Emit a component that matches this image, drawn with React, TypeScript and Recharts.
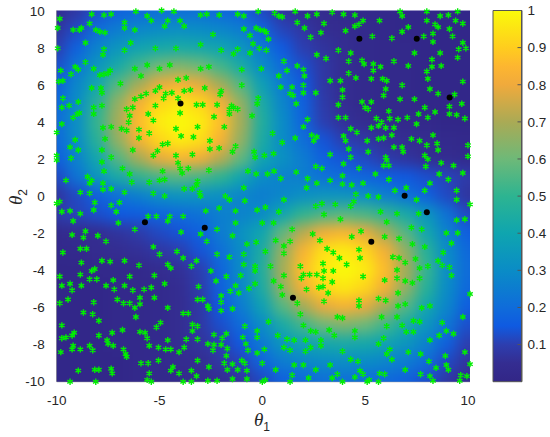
import { ScatterChart, Scatter, XAxis, YAxis, Label, ComposedChart, Bar } from 'recharts'

const xTicks = [-10, -5, 0, 5, 10]
const yTicks = [-10, -8, -6, -4, -2, 0, 2, 4, 6, 8, 10]
const barTicks = [0.1, 0.2, 0.3, 0.4, 0.5, 0.6, 0.7, 0.8, 0.9, 1]

// colour scale
const colorStops: [number, number[]][] = [
  [0, [50, 38, 135]],
  [0.05, [52, 45, 145]],
  [0.1, [45, 62, 175]],
  [0.15, [15, 90, 225]],
  [0.2, [15, 108, 218]],
  [0.3, [10, 140, 198]],
  [0.4, [15, 165, 175]],
  [0.5, [45, 180, 145]],
  [0.6, [110, 185, 120]],
  [0.7, [170, 170, 85]],
  [0.8, [240, 170, 60]],
  [0.85, [253, 182, 48]],
  [0.9, [255, 205, 30]],
  [1, [250, 250, 10]],
]

const gridX = [-10, -9, -8, -7, -6, -5, -4, -3, -2, -1, 0, 1, 2, 3, 4, 5, 6, 7, 8, 9, 10]
const gridY = [10, 9, 8, 7, 6, 5, 4, 3, 2, 1, 0, -1, -2, -3, -4, -5, -6, -7, -8, -9, -10]
const heatRows = [
  [.05, .08, .13, .17, .19, .21, .21, .21, .19, .17, .12, .07, .05, .04, .03, .02, .02, .01, .01, .01, .01],
  [.07, .12, .20, .25, .28, .30, .31, .30, .28, .25, .18, .11, .08, .05, .04, .03, .02, .01, .01, .01, .01],
  [.10, .17, .27, .34, .39, .42, .43, .42, .39, .34, .24, .15, .10, .07, .05, .03, .02, .02, .01, .01, .01],
  [.13, .23, .34, .43, .53, .60, .63, .60, .53, .43, .30, .20, .13, .08, .05, .03, .02, .02, .01, .01, .01],
  [.16, .28, .41, .56, .69, .79, .83, .79, .69, .56, .38, .25, .15, .08, .05, .03, .02, .02, .01, .01, .01],
  [.19, .30, .48, .66, .82, .92, .96, .92, .82, .66, .44, .28, .17, .09, .05, .03, .02, .02, .01, .01, .01],
  [.20, .31, .51, .69, .86, .97, 1, .97, .87, .69, .46, .30, .18, .10, .06, .04, .02, .02, .02, .01, .01],
  [.19, .30, .48, .66, .82, .92, .97, .94, .83, .66, .44, .30, .21, .14, .10, .08, .06, .05, .04, .03, .02],
  [.16, .27, .41, .56, .69, .79, .84, .81, .72, .58, .40, .32, .25, .17, .14, .12, .09, .07, .05, .04, .03],
  [.12, .22, .34, .43, .50, .54, .56, .54, .50, .40, .30, .27, .26, .22, .20, .18, .16, .15, .13, .11, .09],
  [.07, .12, .17, .22, .26, .31, .33, .33, .31, .28, .25, .28, .31, .33, .33, .31, .26, .22, .17, .12, .07],
  [.09, .11, .13, .15, .16, .18, .20, .22, .26, .27, .30, .40, .50, .54, .56, .54, .50, .43, .34, .22, .12],
  [.03, .04, .05, .07, .09, .12, .14, .17, .25, .32, .40, .58, .72, .81, .84, .79, .69, .56, .41, .27, .16],
  [.02, .03, .04, .05, .06, .08, .10, .14, .21, .30, .44, .66, .83, .94, .97, .92, .82, .66, .48, .30, .19],
  [.01, .01, .02, .02, .02, .04, .06, .10, .18, .30, .46, .69, .87, .97, 1, .97, .86, .69, .51, .31, .20],
  [.01, .01, .01, .02, .02, .03, .05, .09, .17, .28, .44, .66, .82, .92, .96, .92, .82, .66, .48, .30, .19],
  [.01, .01, .01, .02, .02, .03, .05, .08, .15, .25, .38, .56, .69, .79, .83, .79, .69, .56, .41, .28, .16],
  [.01, .01, .01, .02, .02, .03, .05, .08, .13, .20, .30, .43, .53, .60, .63, .60, .53, .43, .34, .23, .13],
  [.01, .01, .01, .02, .02, .03, .05, .07, .10, .15, .24, .34, .39, .42, .43, .42, .39, .34, .27, .17, .10],
  [.01, .01, .01, .01, .02, .03, .04, .05, .08, .11, .18, .25, .28, .30, .31, .30, .28, .25, .20, .12, .07],
  [.01, .01, .01, .01, .02, .02, .03, .04, .05, .07, .12, .17, .19, .21, .21, .21, .19, .17, .13, .08, .05],
]

const blackPoints = [
  [-3.98, 5.01], [4.72, 8.52], [7.51, 8.52], [9.11, 5.34], [6.92, 0.02],
  [8.0, -0.87], [-5.71, -1.41], [-2.8, -1.72], [5.3, -2.47], [1.49, -5.51],
]

const greenPoints = [
  // upper left
  [-9.85,9.6],[-9.95,9.1],[-8.3,9.85],[-8.4,9.35],[-8.8,9.1],[-9.2,9],[-8.9,9],[-8.1,9],[-7.9,8.9],[-7.65,8.85],[-7.7,9.8],[-7.35,9.85],[-6.15,10],[-6.7,9.4],[-6.7,9.1],[-6.2,9],[-5.6,9.75],[-5.4,9.5],[-4.9,10.05],[-4.3,10],[-4.75,9.2],[-4.6,9.5],[-4,9.5],[-3.8,9.2],[-3,9.8],[-2.7,9.85],[-2.1,9.8],[-1.2,9.85],[-0.9,9.75],[-0.2,10],[0.6,9.9],[0.8,9.75],
  [-0.9,9.05],[-0.3,9.1],[-0.1,9],[0.1,8.95],[0.2,8.85],[-0.6,8.7],[-2.4,8.75],[-0.45,8.25],[0.3,8.5],
  [-9.95,8],[-8.6,8.3],[-7.7,7.95],[-7.75,7.65],[-6.4,8.3],[-6.7,7.9],[-5.2,8],[-4.2,8],[-3,8.2],[-2,7.9],[-1.4,7.7],[-1.2,7.95],[-0.6,7.75],[-0.15,8],[0.2,7.9],
  [-9.1,7],[-8.6,7.25],[-8.95,6.85],[-9.8,6.8],[-9.3,6.6],[-8.2,6.9],[-7.5,6.65],[-7.9,6.55],[-7.7,6.6],[-7.4,6.8],[-6.2,6.9],[-5.6,7.1],[-5,6.9],[-4.5,7.1],[-5.9,6.5],[-3,6.9],[-2.6,7],[-1,6.85],[-0.05,6.9],[-3.7,6.4],[-4.1,6.3],
  [-9.9,6.2],[-9.7,6.25],[-8.3,5.85],[-7.85,5.85],[-7.8,5.6],[-6.9,6.1],[-5,5.9],[-5.2,5.7],[-1,6],[-3.8,5.7],[-3.5,5.75],[-4.4,5.6],[-4.7,5.55],[-2.8,5.85],[-2,5.7],[-2.05,5.5],[-0.2,5.3],
  [-6.2,5.25],[-5.9,5.4],[-5.65,5.55],[-4.8,5.3],[-5.2,4.9],[-4.1,5.3],[-3.2,4.95],[-2.9,4.95],[-2.2,4.95],[-1.5,4.9],[-1.4,4.8],[-1.2,4.7],[-9.7,5.3],[-9.75,4.8],[-9.4,4.9],[-8.95,5.1],[-8.2,4.8],[-7.8,4.9],[-9,4.45],[-8.9,4.5],
  [-6.6,4.7],[-6.3,4.8],[-6.45,4.35],[-6.5,4],[-6.85,3.65],[-6.6,3.55],[-5.55,4.45],[-5.3,4.1],[-7.35,3.75],[-7.75,3.7],[-6,3.6],[-6,3.15],[-5.5,3.4],[-4.2,3.65],[-4,4.5],[-3.15,3.75],[-2.35,4.3],[-1.6,4.7],[-1.6,4.45],[-1.85,3.75],[-0.5,4.35],[-0.25,5],[-9.75,3.9],[-10,3.45],[-9.2,4.25],[-8.2,4.45],[-7.65,3.1],[-3.95,3.25],[-3.35,3.2],[-9.1,3.05],[0.5,3.4],
  [-4.85,2.8],[-4.6,2.85],[-2.55,3],[-2.55,2.55],[-2.1,2.6],[-1.3,2.7],[-1.45,2.4],[-5.1,2.45],[-5.3,2.2],[-6.3,2.5],[-7.35,2.1],[-7.8,2.5],[-9.35,2.65],[-8.95,2.5],[-9.3,2.05],[-10,2.2],[-10,1.95],[-4.2,2.2],[-3.4,2.25],[-0.4,2.4],[-0.35,2.1],[0.1,2.2],[0.55,2.3],
  [-7.8,1.85],[-6.8,1.5],[-4.1,1.8],[-4,1.5],[-3.6,1.5],[-3.9,1.25],[-4.85,1.35],[-7.7,1.35],[-6.45,1.2],[-2.6,1.4],[-0.7,1.35],[-0.3,1.2],[0.25,1.2],[-9.55,0.85],[-8.5,1.05],[-8.3,0.85],[-8.4,0.7],[-7.75,0.7],[-6.35,0.75],[-5.5,0.75],[-5,0.85],[-4.75,0.9],
  [-3.15,0.8],[-3.2,0.6],[-3.8,0.4],[-3.4,0.4],[-0.9,0.45],[-7.75,0.35],[-7.35,0.4],[-8.85,0.2],[-8.4,0.15],[-6.7,0.2],[-5.3,0.15],[-4.75,0],[-3.05,0.2],[-3,0],[-1.8,0],[-1.6,-0.2],[-0.85,-0.25],[-9.85,-0.3],[-10,-0.4],[-8.15,-0.35],[-7.35,-0.5],[-6.95,-0.35],[-2.75,-0.8],[-2.1,-0.65],[-1.3,-0.8],[-0.25,-0.75],[0.15,-0.6],[-7.1,-0.85],[-9.35,-0.8],[-9.75,-0.85],[-8.85,-0.95],[-8.2,-0.75],[-5.55,-1.1],[-5.15,-1.1],[-4.5,-1.1],[-3.85,-1.1],
  // upper right
  [0.97,9.7],[1.6,10],[2.2,9.75],[2.65,9.85],[3.4,9.95],[3.95,9.85],[4.5,9.8],[6.7,10],[6.8,9.75],[8,10],[8,9.5],[8.65,9.75],[9.05,9.8],[9.5,10],[9.4,9.5],[9.75,9.35],
  [1.7,9.4],[2.05,9.1],[3,9.35],[2.85,8.85],[2.35,8.6],[4.05,8.95],[4.5,9.2],[4.9,9.5],[5.7,9.5],[4.7,9.3],[5.35,8.65],[6.3,8.55],[6.8,8.9],[7.1,9.15],[7.85,8.65],[8.3,8.8],[8.3,8.35],[8.4,9.3],[8.55,9.15],[9.1,9.05],[9.25,8.65],
  [3.7,7.9],[4.3,7.75],[2.65,7.65],[3.1,7.45],[4.2,7.3],[4.85,7.35],[4.95,7.15],[6.4,7.3],[7.4,7.75],[8.25,7.4],[8.65,7.75],[9.75,8.3],[9.55,7.95],[9.9,8],[9.5,7.5],[1.05,7.3],[1.7,7.05],[2,6.85],[7.1,7.05],[8.7,7.05],[8.25,7],
  [5.4,7.15],[5.75,7],[5.4,6.8],[4.2,6.65],[1.2,6.8],[0.8,6.5],[2.05,6.5],[8,6.75],[8.05,6.35],[4.55,6.4],[5.3,6.35],[5.85,6.35],[6.05,6.25],[3.3,6.25],[3.8,6.25],[9.75,6.2],[6.8,6],
  [1.45,5.9],[0.9,5.9],[2,6],[6,5.8],[3.9,5.75],[8.15,5.8],[2.6,5.6],[1.35,5.55],[1.5,5.45],[2,5.6],[5.9,5.45],[3.9,5.35],[6.7,5.25],[7.4,5.25],[8.55,5.55],[9.35,5.5],
  [1.65,5],[3.7,4.95],[4.85,5.1],[5.3,5.1],[5,4.8],[5.15,4.7],[9.1,4.85],[9.7,5],[7.9,4.8],[6.15,4.6],[7.6,4.45],[9.1,4.45],[9.45,4.4],[8.4,4.55],[3.7,4.25],[4.05,4.25],[7.05,4.25],[8.05,4.25],[9.85,4.2],[2.2,4.15],[2,3.75],[5.55,4.2],[5.8,4],[6.2,4.2],[6.6,4.15],[7.5,3.9],[5.3,3.7],[6,3.7],[6.4,3.7],[4.3,3.65],[4.6,3.45],[5.65,3.8],
  [1.6,3.15],[2.4,3.3],[2.65,3.2],[2.5,3],[0.97,2.9],[3.95,3.25],[4.05,3],[6.3,3.3],[5.65,3.1],[5.9,3.15],[7.25,3.1],[7.65,3],[8.3,3.3],[8,2.75],[8.5,2.85],[10,2.75],[5.1,3],[4.2,2.55],[6.4,2.65],[6.8,2.65],[6.85,2.4],[5.15,2.4],[8.55,2.5],[10,2.15],[3.3,2.25],[4.3,2.1],[6,2.1],[7.9,2.2],[8.05,2],[6.05,1.95],[6.15,1.65],[3.95,1.75],[8.7,1.8],[9.3,1.65],[2.6,1.6],[2.9,1.5],[7.95,1.6],[4.7,1.5],[5.9,1.65],[0.57,1.35],[1.65,1.3],[3.9,1.1],[5.5,1.2],[9.75,1.25],[8.6,1.2],
  [0.9,0.95],[2.2,0.95],[2.65,0.7],[3.3,0.85],[3.9,0.65],[6.15,0.9],[9.05,0.9],[2.15,0.45],[4.35,0.6],[4.9,0.7],[8.15,0.7],[7,0.45],[7.9,0.3],[9.45,0.3],[5.65,-0.05],[4.55,0.1],[6.45,0.3],[5.15,0],[1.05,-0.2],[9.45,-0.2],[10.1,-0.45],[7.5,-0.2],[2.9,-0.4],[3.55,-0.45],[2.6,-0.55],[4.45,-0.3],[4.3,-0.55],[0.8,-0.85],[3,-1],[5.75,-0.85],[6.55,-0.95],[7.6,-0.95],
  // lower left
  [-9.2,-1.35],[-7,-1.45],[-4.6,-1.35],[-6.2,-1.8],[-9.25,-2.1],[-8.6,-1.9],[-8,-2.15],[-7.6,-2.45],[-8.7,-2.25],[-3.95,-1.95],[-3,-2.05],[-2.7,-2.45],[-2.2,-1.8],[-1.3,-1.45],[0,-1.45],[0.55,-1.45],[-1.45,-2.15],[-0.75,-2.6],[-0.3,-2.5],[-9.7,-3.05],[-8.85,-2.85],[-8.55,-2.85],[-5.3,-2.75],[-5,-3.15],[-4.15,-3],[-3.85,-3.35],[-3.2,-3.5],[-2.2,-3.15],[-1.6,-3.3],[-0.9,-3.15],[0.15,-3],
  [-8.8,-3.6],[-7.8,-3.5],[-7.4,-3.55],[-6.7,-3.5],[-6,-3.75],[-4.6,-3.7],[-4.45,-3.9],[-3.45,-3.8],[-8.15,-3.95],[-8.3,-4.05],[-2.5,-4.05],[-0.9,-3.7],[-0.35,-3.8],[-0.35,-4.05],[0.4,-3.8],
  [-9.85,-4.35],[-8.85,-4.25],[-8.05,-4.5],[-8.4,-4.5],[-6.45,-4.35],[-7.25,-4.55],[-5.25,-4.3],[-1.75,-4.35],[-1.05,-4.3],[-2.25,-4.6],[-0.35,-4.75],[-9.75,-4.85],[-9.35,-4.75],[-8.8,-4.85],[-7.6,-4.85],[-4.75,-4.75],[-7.2,-5.05],[-6.7,-4.85],[-3.1,-4.9],[-9.25,-5.1],[-6.3,-5.1],[-5.75,-5.05],[-5.4,-4.95],[-1.3,-4.85],[-0.65,-5],[-1.55,-5.15],[-1.15,-5.25],[0.55,-4.6],
  [-7.05,-5.6],[-5.95,-5.5],[-5.25,-5.5],[-9.45,-5.6],[-2,-5.4],[-3.15,-5.6],[-2.9,-5.6],[-9.85,-5.8],[-8.2,-5.75],[-6.75,-5.8],[-6.45,-5.8],[-5.95,-5.85],[-2,-5.75],[-2.65,-5.95],[-6.2,-6.05],[-4.6,-6.05],[-2,-6.2],[-2.6,-6.1],[-8.7,-6.3],[-8.25,-6.4],[-3.85,-6.35],[-3.6,-6.35],[-7.95,-6.75],[-6.15,-6.55],[-4.95,-6.85],[-1.45,-6.1],[0.3,-6.8],[-5.15,-7.1],[-9.75,-7],[-3.4,-6.95],[-3.15,-7.05],[-0.85,-7.05],[-3.4,-7.3],[-6.8,-7.25],[-7.3,-7.4],[-9.15,-7.4],[-5.95,-7.35],[-5.7,-7.4],[-0.25,-7.3],
  [-9.55,-7.65],[-9.75,-7.7],[-9.25,-7.55],[-7.95,-7.55],[-5.6,-7.7],[-4.6,-7.8],[-3.7,-7.75],[-3.15,-7.75],[-2.35,-7.5],[-1.75,-7.45],[-1.95,-7.7],[-0.95,-7.65],[-0.25,-7.65],[-7.55,-7.8],[-7.5,-8],[-7.25,-8.1],[-2.65,-8],[-2.35,-8.05],[-2,-8.05],[-0.8,-8],[-9.2,-8.1],[-8.4,-8.1],[-5.5,-8.1],[-5.05,-8.2],[-3.8,-8.2],[-1.7,-8.25],[-4.7,-8.3],[-4.45,-8.3],[-9.25,-8.3],[-6.75,-8.3],[-8.85,-8.3],[-0.7,-8.35],[0.1,-8.3],[-9.8,-8.45],[-8.25,-8.35],[-6.65,-8.55],[-4.05,-8.45],[-2.4,-8.35],[-6.6,-8.7],[-1.75,-8.65],[-0.25,-8.5],[-1,-8.9],
  [-3.15,-8.9],[-5.05,-8.9],[-5.9,-9.05],[-5.55,-9.05],[-1.85,-9.05],[-1.45,-9.1],[-0.85,-9.05],[0,-9.05],[-4.35,-9.25],[-4.45,-9.45],[-7.35,-9.35],[-8.95,-9.45],[-8.15,-9.4],[-7.95,-9.4],[-7.3,-9.6],[-2.6,-9.25],[-1.7,-9.4],[-1.2,-9.4],[-0.75,-9.45],[-4.05,-9.6],[-3.45,-9.45],[-3.2,-9.75],[-5.5,-9.6],[-5.6,-9.95],[-2.65,-10],[-2.2,-10],[-1.45,-9.9],[-9.35,-10.05],[-8.1,-10.05],[-5.4,-10.05],[-3.85,-10.05],[-3.45,-10.05],[0,-10.05],[-0.75,-9.9],[0.15,-9.95],
  // lower right
  [3.8,-1.25],[6.05,-1.4],[7.25,-1.7],[7.75,-1.8],[9.45,-1.3],[9.85,-1.25],[1.45,-1.8],[2.45,-2.05],[4.35,-2.2],[4.8,-1.9],[5.95,-2.2],[6.65,-2.3],[8.95,-2],[9.5,-2],[9.2,-2.55],[7.3,-2.6],[1.35,-2.45],[1.05,-2.7],[2.8,-2.4],[0.65,-2.4],[3.15,-2.85],[4.7,-2.9],[3.45,-3.05],[1.05,-3.1],[3.75,-3.35],[4.75,-3.35],[6.35,-3.3],[6.65,-3.35],[7.9,-2.75],[8.8,-3.05],[7.45,-3.4],
  [2.95,-3.65],[6.95,-3.6],[4.1,-3.7],[1.85,-3.8],[8.55,-3.5],[8.75,-3.75],[8.05,-3.8],[9.1,-3.85],[7.65,-3.9],[6.55,-4],[3,-4.05],[3.45,-4.05],[2,-4.25],[2.3,-4.25],[2.65,-4.25],[1.05,-4.3],[4.9,-4.35],[1.9,-4.45],[2.95,-4.45],[9.2,-4.3],[6.55,-4.45],[5.95,-4.55],[7.65,-4.45],[3.4,-4.65],[6.95,-4.6],[7.3,-4.7],[2.95,-4.9],[2.75,-4.95],[0.9,-4.9],[2.15,-5.05],[3.2,-5.25],[6.6,-5.25],[10.1,-5.3],[0.97,-5.35],[1.7,-5.8],[4.7,-5.65],[5.65,-5.55],[6,-5.65],[3,-5.7],[4.7,-5.95],[6.6,-5.95],[6.95,-5.85],[8.15,-5.95],[7.75,-6.05],[1.85,-6.4],[9.75,-6.55],[3.9,-6.6],[3.65,-6.55],[5.8,-6.55],[6.55,-6.55],[7.65,-6.8],[7.35,-6.75],[8.75,-6.85],[2,-7],[6.8,-7],[6.05,-7.05],[4.5,-7.3],[7,-7.35],[7.35,-7.35],[8.95,-7.3],[9.3,-7.45],[8.6,-7.55],[2.35,-7.3],[2.6,-7.35],[3.25,-7.25],[3.5,-7.55],[0.75,-7.55],
  [4.5,-7.65],[5.9,-7.7],[8.15,-7.8],[1.2,-7.75],[1.55,-7.8],[2.1,-7.8],[2.85,-7.8],[5.65,-8],[2.85,-8.1],[2.35,-8.2],[1.05,-8.2],[6.2,-8.3],[1.35,-8.35],[2.1,-8.4],[3.9,-8.4],[7.1,-8.45],[6.05,-8.55],[9.85,-8.45],[7.7,-8.55],[8.9,-8.65],[6.3,-8.85],[4.3,-8.85],[4.65,-8.95],[8.1,-8.95],[10.1,-9.1],[1.55,-9.15],[2,-9.15],[3.3,-9.15],[8.95,-9.15],[8.45,-9.3],[9.05,-9.4],[0.65,-9.4],[2.6,-9.4],[6.95,-9.4],[4.75,-9.45],[4.9,-9.65],[5.7,-9.6],[5.95,-9.65],[1.45,-9.7],[3.65,-9.65],[7.7,-9.65],[8.15,-9.75],[9.65,-9.7],[9.95,-9.75],[2.25,-9.85],[3.4,-9.85],[4.5,-9.8],[5.2,-9.95],[8.3,-10],[9.6,-10],[1.35,-10.05],[3.9,-10.05],[5.1,-10.05],[5.65,-10.05],
]

const colorOf = (v: number) => {
  for (let i = 1; i < colorStops.length; i++) {
    const [v1, c1] = colorStops[i]
    if (v <= v1) {
      const [v0, c0] = colorStops[i - 1]
      const t = (v - v0) / (v1 - v0)
      const c = c0.map((k, j) => Math.round(k + (c1[j] - k) * t))
      return `rgb(${c[0]},${c[1]},${c[2]})`
    }
  }
  return 'rgb(250,250,10)'
}

const heatData = gridY.flatMap((y, r) => gridX.map((x, c) => ({ x, y, v: heatRows[r][c] })))
const greenData = greenPoints.map(([x, y]) => ({ x, y }))
const blackData = blackPoints.map(([x, y]) => ({ x, y }))
const barData = [{ name: 'scale', v: 1 }]

const chartW = 550
const chartH = 437
const textColor = '#262626'
const tickStyle = { fontFamily: 'Liberation Sans', fontSize: 13.5, fill: textColor }

const HeatCell = (props: any) => {
  const { cx, cy, payload } = props
  // edge cells run on past the frame so the blur has no transparent rim
  const left = payload.x === -10 ? 40 : 11
  const right = payload.x === 10 ? 40 : 11
  const top = payload.y === 10 ? 40 : 10
  const bottom = payload.y === -10 ? 40 : 10
  return <rect x={cx - left} y={cy - top} width={left + right} height={top + bottom} fill={colorOf(payload.v)} />
}

const Asterisk = (props: any) => {
  const { cx, cy } = props
  const r = 3.2
  const dx = r * 0.87
  const dy = r * 0.5
  return (
    <path
      d={`M${cx},${cy - r}V${cy + r}M${cx - dx},${cy - dy}L${cx + dx},${cy + dy}M${cx - dx},${cy + dy}L${cx + dx},${cy - dy}`}
      stroke="#00ee00"
      strokeWidth={1.4}
      fill="none"
    />
  )
}

const BlackDot = (props: any) => <circle cx={props.cx} cy={props.cy} r={3} fill="#000" />

const ThetaLabel = ({ x, y, sub, rotate }: any) => (
  <text
    x={x}
    y={y}
    fill={textColor}
    transform={rotate ? `rotate(-90 ${x} ${y})` : undefined}
    fontFamily="Liberation Serif"
    fontStyle="italic"
    fontSize={19}
    textAnchor="middle"
  >
    θ
    <tspan fontFamily="Liberation Sans" fontStyle="normal" fontSize={12} dy={5}>
      {sub}
    </tspan>
  </text>
)

export default function App() {
  return (
    <div style={{ position: 'absolute', left: 0, top: 0, width: chartW, height: chartH, background: '#fff' }}>
      <style>{`.heat-layer { filter: blur(7px); clip-path: url(#plotClip); }`}</style>
      <div style={{ position: 'absolute', left: 0, top: 0 }}>
        <ScatterChart width={chartW} height={chartH} margin={{ top: 10.5, right: 80, bottom: 25.3, left: 6.7 }}>
          <defs>
            <clipPath id="plotClip">
              <rect x={56.7} y={10.5} width={413.3} height={371.2} />
            </clipPath>
          </defs>
          <XAxis
            type="number"
            dataKey="x"
            domain={[-10, 10]}
            ticks={xTicks}
            height={30}
            tickLine={false}
            tickMargin={8}
            tick={tickStyle}
            axisLine={{ stroke: '#8a8a8a' }}
          >
            <Label content={() => <ThetaLabel x={262} y={426} sub="1" />} />
          </XAxis>
          <YAxis
            type="number"
            dataKey="y"
            domain={[-10, 10]}
            ticks={yTicks}
            width={50}
            tickLine={false}
            tickMargin={6}
            tick={tickStyle}
            axisLine={{ stroke: '#8a8a8a' }}
          >
            <Label content={() => <ThetaLabel x={22} y={197} sub="2" rotate />} />
          </YAxis>
          <Scatter className="heat-layer" data={heatData} shape={HeatCell} isAnimationActive={false} />
          <Scatter data={greenData} shape={Asterisk} isAnimationActive={false} />
          <Scatter data={blackData} shape={BlackDot} isAnimationActive={false} />
        </ScatterChart>
      </div>
      <div style={{ position: 'absolute', left: 0, top: 0 }}>
        <ComposedChart width={chartW} height={chartH} data={barData} barCategoryGap={0} margin={{ top: 10.5, right: 0, bottom: 55.3, left: 493 }}>
          <defs>
            <linearGradient id="parulaBar" x1="0" y1="0" x2="0" y2="1">
              {[...colorStops].reverse().map(([v, c]) => (
                <stop key={v} offset={1 - v} stopColor={`rgb(${c[0]},${c[1]},${c[2]})`} />
              ))}
            </linearGradient>
          </defs>
          <XAxis dataKey="name" hide />
          <YAxis
            orientation="right"
            domain={[0, 1]}
            ticks={barTicks}
            width={28.5}
            tickSize={-4}
            tickMargin={10}
            tick={tickStyle}
            stroke="#555"
          />
          <Bar dataKey="v" fill="url(#parulaBar)" stroke="#555" isAnimationActive={false} />
        </ComposedChart>
      </div>
    </div>
  )
}
